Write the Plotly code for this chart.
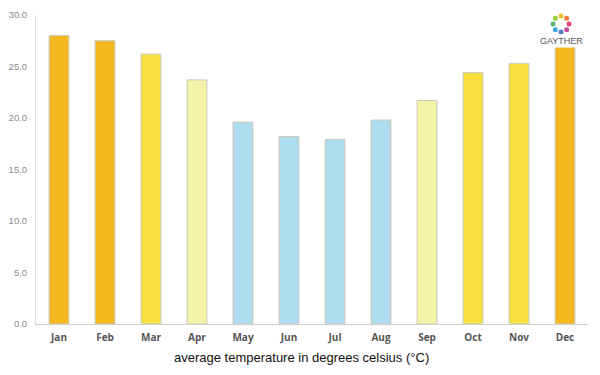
import math
import plotly.graph_objects as go

months = ["Jan", "Feb", "Mar", "Apr", "May", "Jun", "Jul", "Aug", "Sep", "Oct", "Nov", "Dec"]
avg_temp = [28.0, 27.5, 26.2, 23.7, 19.6, 18.2, 17.9, 19.8, 21.7, 24.4, 25.3, 27.8]
bar_colors = ["#F4B820", "#F4B820", "#F8E13F", "#F3F3A9", "#AEDDEF", "#AEDDEF",
              "#AEDDEF", "#AEDDEF", "#F3F3A9", "#F8E13F", "#F8E13F", "#F4B820"]
y_ticks = [0, 5, 10, 15, 20, 25, 30]
y_tick_text = ["0.0", "5.0", "10.0", "15.0", "20.0", "25.0", "30.0"]
x_title = "average temperature in degrees celsius (°C)"
logo_text = "GAYTHER"
logo_colors = ["#F4C430", "#9CCB3B", "#5BB56B", "#3FA7D6", "#4F7DC9", "#C04FA0", "#E8457A", "#F47A3A"]

fig = go.Figure()
fig.add_trace(go.Bar(
    x=months, y=avg_temp,
    marker=dict(color=bar_colors, line=dict(color="#C8C8B8", width=1)),
    width=0.43,
    hoverinfo="x+y",
))

# page body has an 8px margin; target plot area in page pixels: x 36..588, y 15..324
OFF = 8
W, H = 600, 375
ml, mt = 36 - OFF, 15 - OFF
pr, pb = 588 - OFF, 324 - OFF
mr, mb = W - pr, H - pb
pw, ph = pr - ml, pb - mt

def px2paper(px, py):
    return (px - OFF - ml) / pw, (pb - (py - OFF)) / ph

shapes = []
cx, cy = px2paper(561, 24)
for i, c in enumerate(logo_colors):
    ang = 2 * math.pi * i / len(logo_colors) + math.pi / 2
    dx, dy = 8 * math.cos(ang), 8 * math.sin(ang)
    shapes.append(dict(type="circle", xref="paper", yref="paper",
                       xsizemode="pixel", ysizemode="pixel",
                       xanchor=cx, yanchor=cy,
                       x0=dx - 2.5, x1=dx + 2.5, y0=dy - 2.5, y1=dy + 2.5,
                       fillcolor=c, line=dict(width=0), layer="above"))

lx, ly = px2paper(561, 41)
fig.update_layout(
    width=W, height=H,
    margin=dict(l=ml, r=mr, t=mt, b=mb),
    plot_bgcolor="white", paper_bgcolor="white",
    showlegend=False,
    bargap=0.57,
    shapes=shapes,
    xaxis=dict(
        showgrid=False, showline=True, linecolor="#CFCFCF", linewidth=1,
        ticks="", ticklabelstandoff=4,
        tickfont=dict(family="Open Sans", size=10, color="#555555"),
        tickprefix="<b>", ticksuffix="</b>", automargin=False,
        range=[-0.5, 11.5],
    ),
    yaxis=dict(
        range=[0, 30], tickvals=y_ticks, ticktext=y_tick_text,
        showgrid=False, showline=True, linecolor="#DDDDDD", linewidth=1,
        zeroline=False, ticks="", ticklabelstandoff=6, automargin=False,
        tickfont=dict(family="Liberation Sans", size=9.5, color="#8A8A8A"),
    ),
    annotations=[
        dict(text=x_title, xref="paper", yref="paper",
             x=px2paper(301, 0)[0], y=px2paper(0, 357)[1],
             showarrow=False, xanchor="center", yanchor="middle",
             font=dict(family="Liberation Sans", size=13, color="#111111")),
        dict(text=logo_text, xref="paper", yref="paper", x=lx, y=ly,
             showarrow=False, xanchor="center", yanchor="middle",
             bgcolor="white", borderpad=1,
             font=dict(family="Liberation Sans", size=9, color="#555555")),
    ],
)

fig.write_html("out.html")
